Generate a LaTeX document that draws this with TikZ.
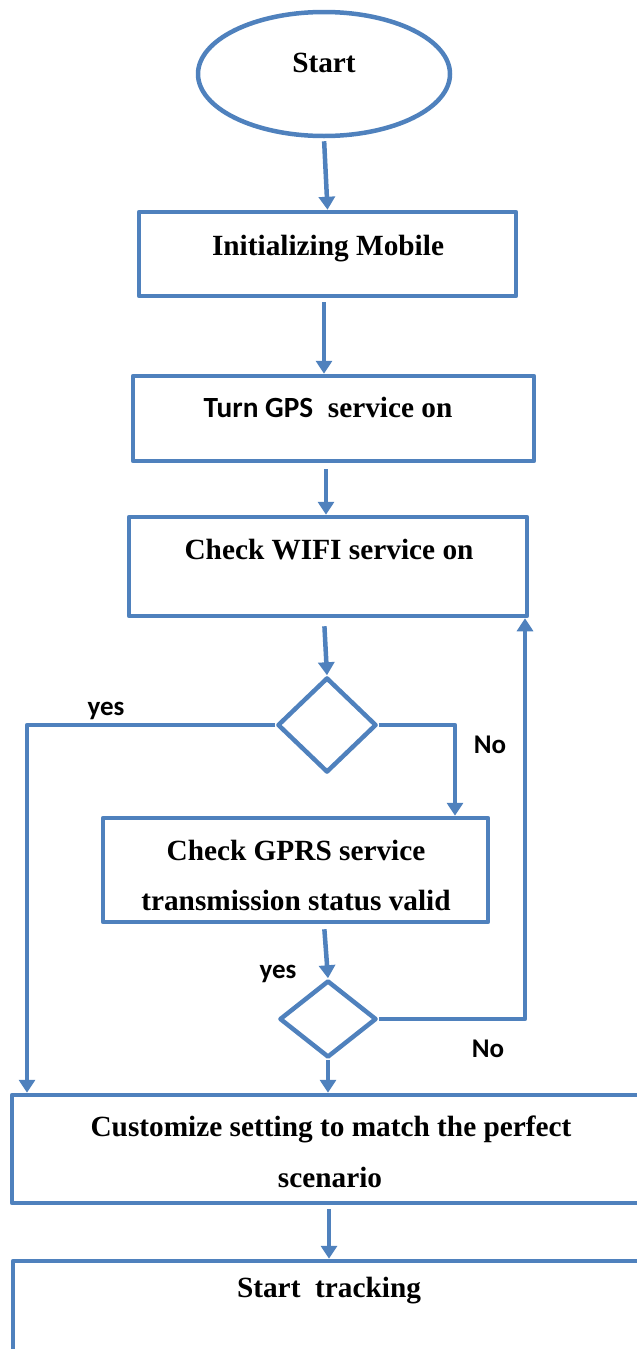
\documentclass[tikz,border=0pt]{standalone}
\usepackage{fontspec}
\setmainfont{Liberation Serif}
\newfontfamily\labfont{Carlito}
\usetikzlibrary{shapes.geometric,arrows.meta}
\definecolor{flowblue}{HTML}{4F81BD}
\tikzset{
  outline/.style={draw=flowblue, line width=4.5pt, line join=round},
  boxnode/.style={outline, rectangle, inner sep=0pt},
  decision/.style={outline, diamond, inner sep=0pt},
  terminal/.style={outline, ellipse, inner sep=0pt},
  caption/.style={anchor=base, inner sep=0pt, font=\fontsize{29.3}{34}\selectfont\bfseries},
  branch/.style={anchor=base, inner sep=0pt, font=\fontsize{27}{32}\selectfont\labfont\bfseries},
  arr/.style={draw=flowblue, line width=4.5pt, line join=round,
    -{Triangle[length=13pt,width=16pt]}},
}
\begin{document}
\begin{tikzpicture}[x=1pt,y=-1pt]
\useasboundingbox (0,0) rectangle (637,1349);
\clip (0,0) rectangle (637,1349);

% shapes
\node[terminal, minimum width=252pt, minimum height=124pt] (e) at (324,74) {};
\node[boxnode, minimum width=377pt, minimum height=84pt] (b1) at (327.5,254) {};
\node[boxnode, minimum width=401pt, minimum height=85pt] (b2) at (333.5,418.5) {};
\node[boxnode, minimum width=398pt, minimum height=99pt] (b3) at (328,566.5) {};
\node[decision, minimum width=99pt, minimum height=95pt] (d1) at (327,725) {};
\node[boxnode, minimum width=385pt, minimum height=104pt] (b4) at (295.5,870) {};
\node[decision, minimum width=97pt, minimum height=77pt] (d2) at (328,1019) {};
\node[boxnode, minimum width=668pt, minimum height=108pt] (b5) at (346,1149) {};
\node[boxnode, minimum width=668pt, minimum height=160pt] (b6) at (347,1341) {};

% texts
\node[caption] (t0) at (324,72) {Start};
\node[caption] (t1) at (328,255) {Initializing Mobile};
\node[caption] (t2) at (328,417) {{\labfont Turn GPS}\ \ service on};
\node[caption] (t3) at (329,559) {Check WIFI service on};
\node[caption] (t4a) at (296,860) {Check GPRS service};
\node[caption] (t4b) at (296,910) {transmission status valid};
\node[caption] (t5a) at (331,1136) {Customize setting to match the perfect};
\node[caption] (t5b) at (330,1187) {scenario};
\node[caption] (t6) at (329,1297) {Start\ \ tracking};

% branch labels
\node[branch] (y1) at (106,715) {yes};
\node[branch] (n1) at (490,753) {No};
\node[branch] (y2) at (278,978) {yes};
\node[branch] (n2) at (488,1057) {No};

% turning points of the branch lines
\coordinate (yl) at (27,725);
\coordinate (nl) at (455,725);
\coordinate (nr) at (525,1019);

% connectors
\draw[arr, shorten <=3pt] (e.south) -- (b1.north);
\draw[arr, shorten <=4pt] ([xshift=-3.5pt]b1.south) -- ([xshift=-3.5pt]b1.south |- b2.north);
\draw[arr, shorten <=6pt] ([xshift=-7.5pt]b2.south) -- ([xshift=-7.5pt]b2.south |- b3.north);
\draw[arr, shorten <=8pt] ([xshift=-4pt]b3.south) -- (d1.north);
\draw[arr] (d1.west) -- (yl) -- (yl |- b5.north);
\draw[arr] (d1.east) -- (nl) -- (nl |- b4.north);
\draw[arr, shorten <=5pt] ([xshift=28.5pt]b4.south) -- (d2.north);
\draw[arr] (d2.east) -- (nr) -- (nr |- b3.south);
\draw[arr] (d2.south) -- (d2.south |- b5.north);
\draw[arr, shorten <=4pt] ([xshift=-17pt]b5.south) -- ([xshift=-17pt]b5.south |- b6.north);
\end{tikzpicture}
\end{document}
